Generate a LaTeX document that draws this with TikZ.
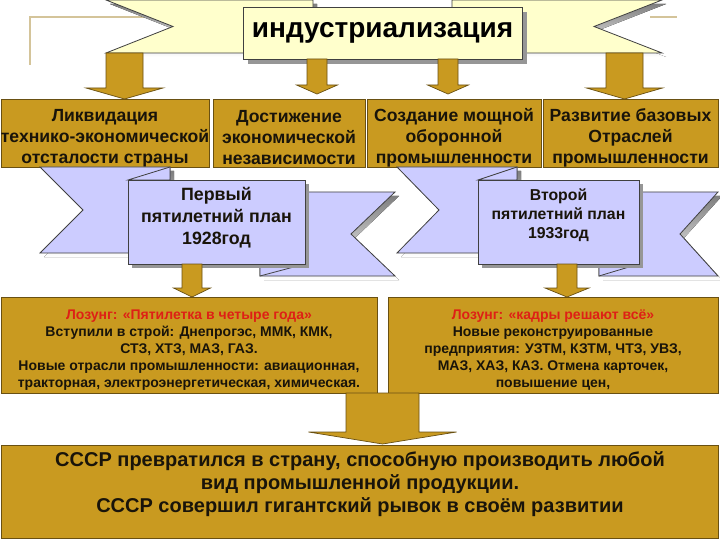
\documentclass[tikz,border=0pt]{standalone}
\usepackage{fontspec}
\setmainfont{Liberation Sans}
\usetikzlibrary{shadows}
\definecolor{gold}{RGB}{201,154,32}
\definecolor{goldline}{RGB}{105,80,18}
\definecolor{cream}{RGB}{255,255,204}
\definecolor{lav}{RGB}{204,204,255}
\definecolor{shade}{RGB}{150,150,150}
\definecolor{tanc}{RGB}{212,196,154}
\definecolor{slogan}{RGB}{222,32,22}
\definecolor{ink}{RGB}{25,20,10}
\newcommand\GoldArrow[6]{\filldraw[goldarrow] (#1-#5,#2) -- (#1+#5,#2) -- (#1+#5,#3) -- (#1+#6,#3) -- (#1,#4) -- (#1-#6,#3) -- (#1-#5,#3) -- cycle;}
\newcommand\RibbonPiece[2]{\fill[shade,shift={(4,4)}] #2; \filldraw[#1] #2;}
\begin{document}
\begin{tikzpicture}[x=1pt,y=-1pt,
  goldbox/.style={draw=goldline,line width=0.8pt,fill=gold,inner sep=0pt},
  goldarrow/.style={draw=goldline,line width=0.7pt,fill=gold},
  creamrib/.style={draw=black!75,line width=0.8pt,fill=cream},
  lavrib/.style={draw=black!75,line width=0.8pt,fill=lav},
  lavbox/.style={draw=black!75,line width=0.8pt,fill=lav,inner sep=0pt,
     drop shadow={shadow xshift=4pt,shadow yshift=-4pt,fill=shade,opacity=1}},
  titlebox/.style={draw=black!75,line width=0.8pt,fill=cream,inner sep=0pt,
     drop shadow={shadow xshift=5pt,shadow yshift=-5pt,fill=shade,opacity=1},
     font=\bfseries\fontsize{28}{32}\selectfont},
  tanline/.style={draw=tanc,line width=2pt},
  txt/.style={align=center,inner sep=0pt,text=ink},
  rowtext/.style={txt,font=\bfseries\fontsize{17.6}{21}\selectfont},
  lowtext/.style={txt,font=\bfseries\fontsize{14}{17}\selectfont}
]
\useasboundingbox (0,0) rectangle (720,540);
\fill[white] (0,0) rectangle (720,540);

% decorative tan lines
\draw[tanline] (30,65) -- (30,17) -- (149,17);
\draw[tanline] (650,17) -- (677,17);

% top ribbon ends
\RibbonPiece{creamrib}{(106,0) -- (313,0) -- (313,53) -- (106,53) -- (173,26.5) -- cycle}
\RibbonPiece{creamrib}{(452,0) -- (662,0) -- (594,26.5) -- (662,53) -- (452,53) -- cycle}

% title
\node[titlebox,minimum width=279pt,minimum height=52pt] (title) at (382.5,33) {индустриализация};

% arrows from the title ribbon
\GoldArrow{124.5}{53}{88}{99}{18.5}{38.5}
\GoldArrow{317}{59}{85}{94}{10}{20.5}
\GoldArrow{448}{59}{85}{94}{10}{20.5}
\GoldArrow{624.5}{53}{88}{99}{18.5}{38}

% top row of boxes
\node[goldbox,minimum width=208pt,minimum height=68pt] (b1) at (105,133) {};
\node[goldbox,minimum width=152pt,minimum height=68pt] (b2) at (289,133) {};
\node[goldbox,minimum width=174pt,minimum height=68pt] (b3) at (454,133) {};
\node[goldbox,minimum width=175pt,minimum height=68pt] (b4) at (630.5,133) {};
\node[rowtext] (b1t) at (105,138) {Ликвидация\\технико-экономической\\отсталости страны};
\node[rowtext] (b2t) at (289,138) {Достижение\\экономической\\независимости};
\node[rowtext] (b3t) at (454,138) {Создание мощной\\оборонной\\промышленности};
\node[rowtext] (b4t) at (630.5,138) {Развитие базовых\\Отраслей\\промышленности};

% ribbon 1
\RibbonPiece{lavrib}{(40,167) -- (170,167) -- (170,253) -- (40,253) -- (83,210) -- cycle}
\RibbonPiece{lavrib}{(260,192) -- (395,192) -- (351,234) -- (395,276) -- (260,276) -- cycle}
\filldraw[lavrib] (128,180) -- (170,167) -- (170,180) -- cycle;
\filldraw[lavrib] (260,264) -- (305,264) -- (260,276) -- cycle;
\node[lavbox,minimum width=177pt,minimum height=84pt] (p1) at (216.5,222) {};
\node[txt,font=\bfseries\fontsize{17.8}{22}\selectfont] (p1t) at (216.5,218) {Первый\\пятилетний план\\1928год};

% ribbon 2
\RibbonPiece{lavrib}{(397,167) -- (517,167) -- (517,253) -- (397,253) -- (439,210) -- cycle}
\RibbonPiece{lavrib}{(599,192) -- (718,192) -- (680,234) -- (718,276) -- (599,276) -- cycle}
\filldraw[lavrib] (478,180) -- (517,167) -- (517,180) -- cycle;
\filldraw[lavrib] (599,264) -- (639,264) -- (599,276) -- cycle;
\node[lavbox,minimum width=161pt,minimum height=84pt] (p2) at (558.5,222) {};
\node[txt,font=\bfseries\fontsize{15.8}{19}\selectfont] (p2t) at (558.5,215) {Второй\\пятилетний план\\1933год};

% arrows from plans
\GoldArrow{192}{264}{288}{297}{10}{18.5}
\GoldArrow{567}{264}{288}{297}{10}{22}

% lower boxes
\node[goldbox,minimum width=376pt,minimum height=96pt] (s1) at (189,345) {};
\node[goldbox,minimum width=330pt,minimum height=96pt] (s2) at (553,345) {};
\node[lowtext] (s1t) at (189,350) {\textcolor{slogan}{Лозунг: «Пятилетка в четыре года»}\\Вступили в строй: Днепрогэс, ММК, КМК,\\СТЗ, ХТЗ, МАЗ, ГАЗ.\\Новые отрасли промышленности: авиационная,\\тракторная, электроэнергетическая, химическая.};
\node[lowtext] (s2t) at (553,350) {\textcolor{slogan}{Лозунг: «кадры решают всё»}\\Новые реконструированные\\предприятия: УЗТМ, КЗТМ, ЧТЗ, УВЗ,\\МАЗ, ХАЗ, КАЗ. Отмена карточек,\\повышение цен,};

% central arrow
\GoldArrow{382.5}{393}{432}{444}{36.5}{74}

% result box
\node[goldbox,minimum width=717pt,minimum height=93pt] (res) at (359.5,491.5) {};
\node[txt,font=\bfseries\fontsize{20}{23}\selectfont] (rest) at (360,484) {СССР превратился в страну, способную производить любой\\вид промышленной продукции.\\СССР совершил гигантский рывок в своём развитии};
\end{tikzpicture}
\end{document}
